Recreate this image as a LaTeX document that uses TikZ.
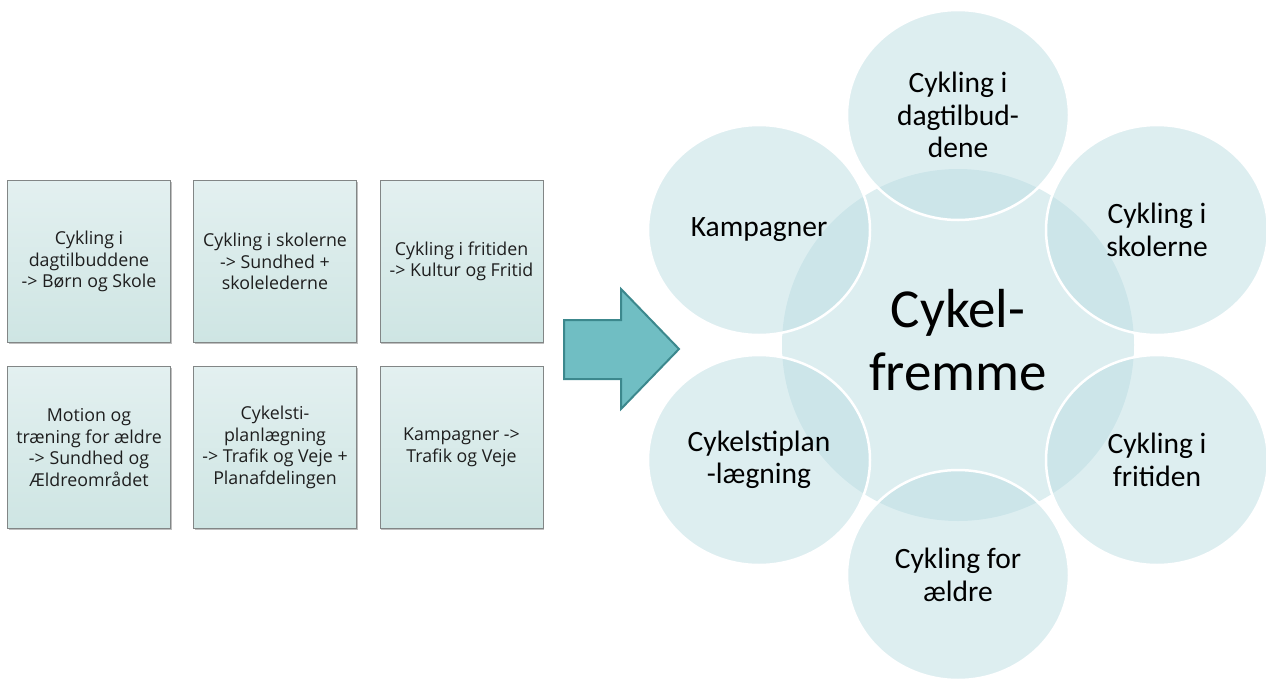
\documentclass[tikz,border=0pt]{standalone}
\usepackage{fontspec}
\setmainfont{Carlito}
\newfontfamily\boxfont{Open Sans}
\usetikzlibrary{shapes.geometric,shadows}
\definecolor{circfill}{RGB}{187,221,226}
\definecolor{boxtop}{RGB}{227,240,240}
\definecolor{boxbot}{RGB}{206,229,227}
\definecolor{boxline}{RGB}{130,134,134}
\definecolor{arrfill}{RGB}{112,190,195}
\definecolor{arrdraw}{RGB}{60,136,141}
\definecolor{boxtext}{RGB}{30,30,30}
\begin{document}
\begin{tikzpicture}[x=1pt,y=-1pt,
  infobox/.style={rectangle, draw=boxline, line width=0.8pt,
    top color=boxtop, bottom color=boxbot,
    minimum width=163pt, minimum height=162pt, inner sep=0pt,
    align=center, text=boxtext,
    font=\boxfont\fontsize{17.8}{21.6}\selectfont,
    drop shadow={shadow xshift=1.2pt, shadow yshift=-1.2pt, opacity=0.25, fill=black}},
  sat/.style={ellipse, fill=circfill, fill opacity=0.5, text opacity=1,
    draw=white, line width=2.5pt, minimum width=222pt, minimum height=210pt,
    inner sep=0pt, align=center, text=black,
    font=\fontsize{29.5}{32.5}\selectfont},
  core/.style={circle, fill=circfill, fill opacity=0.5, draw=none,
    minimum size=352pt, inner sep=0pt},
  corelabel/.style={align=center, text=black, inner sep=0pt,
    font=\fontsize{55}{63}\selectfont},
  bigarrow/.style={fill=arrfill, draw=arrdraw, line width=2pt, line join=miter}
]
\useasboundingbox (0,0) rectangle (1266,678);
\begin{scope}
\clip (0,0) rectangle (1266,678);

% left boxes
\node[infobox] (b1) at (89,261.5) {Cykling i\\dagtilbuddene\\-> Børn og Skole};
\node[infobox] (b2) at (275,261.5) {Cykling i skolerne\\-> Sundhed +\\skolelederne};
\node[infobox] (b3) at (461.5,261.5) {Cykling i fritiden\\-> Kultur og Fritid};
\node[infobox] (b4) at (89,447.5) {Motion og\\træning for ældre\\-> Sundhed og\\Ældreområdet};
\node[infobox] (b5) at (275,447.5) {Cykelsti-\\planlægning\\-> Trafik og Veje +\\Planafdelingen};
\node[infobox] (b6) at (461.5,447.5) {Kampagner ->\\Trafik og Veje};

% big arrow
\draw[bigarrow] (564,320) -- (621,320) -- (621,289) -- (679,349) -- (621,409) -- (621,379) -- (564,379) -- cycle;

% central circle
\node[core] (ctr) at (958,345) {};
\node[corelabel] (ctrlabel) at (958,340) {Cykel-\\fremme};

% satellites
\node[sat] (s1) at (958,115) {Cykling i\\dagtilbud-\\dene};
\node[sat] (s2) at (1157,230) {Cykling i\\skolerne};
\node[sat] (s3) at (1157,460) {Cykling i\\fritiden};
\node[sat] (s4) at (958,575) {Cykling for\\ældre};
\node[sat] (s5) at (759,460) {Cykelstiplan\\-lægning};
\node[sat] (s6) at (759,230) {Kampagner};
\end{scope}
\end{tikzpicture}
\end{document}
